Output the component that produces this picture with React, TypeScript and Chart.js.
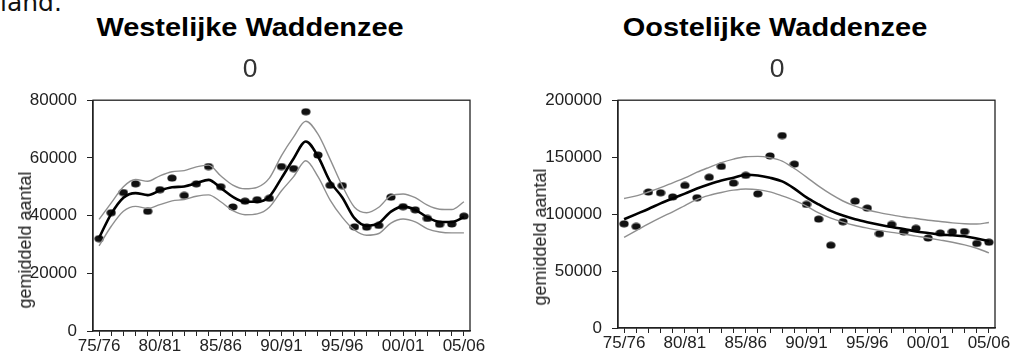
import React, { useEffect, useRef } from "react";
import { Chart, registerables } from "chart.js";

Chart.register(...registerables);

// ---------- data ----------
const seasons = [
  "75/76", "76/77", "77/78", "78/79", "79/80", "80/81", "81/82", "82/83", "83/84", "84/85",
  "85/86", "86/87", "87/88", "88/89", "89/90", "90/91", "91/92", "92/93", "93/94", "94/95",
  "95/96", "96/97", "97/98", "98/99", "99/00", "00/01", "01/02", "02/03", "03/04", "04/05",
  "05/06",
];
const shownSeasonTicks = ["75/76", "80/81", "85/86", "90/91", "95/96", "00/01", "05/06"];

const westTicks = [0, 20000, 40000, 60000, 80000];
const eastTicks = [0, 50000, 100000, 150000, 200000];

const westObserved = [32000, 41000, 48000, 51000, 41500, 49000, 53000, 47000, 51000, 57000, 50000, 43000, 45000, 45500, 46000, 57000, 56300, 76000, 61000, 50500, 50400, 36100, 36000, 36600, 46400, 43100, 42000, 39000, 37000, 37100, 39800];
const westTrend = [32300, 40600, 46200, 47800, 47100, 48700, 49800, 50100, 51200, 52400, 49600, 46500, 44800, 44800, 46600, 53000, 59800, 65700, 60500, 51800, 46300, 39100, 36500, 37400, 41400, 43100, 42000, 39400, 37800, 37800, 39500];
const westUpper = [38700, 44400, 50000, 52500, 51900, 53800, 55200, 55600, 56900, 57500, 53800, 50600, 49300, 49800, 53000, 60800, 67300, 72700, 68200, 59500, 50300, 42900, 41000, 42900, 46900, 47500, 46200, 43600, 42200, 42100, 44800];
const westLower = [29500, 36300, 41500, 43200, 42500, 43800, 45100, 45600, 46700, 47200, 44800, 41700, 40300, 40600, 42900, 48600, 53500, 59000, 53500, 45400, 39400, 35000, 33200, 33800, 37400, 38800, 37800, 35400, 34300, 34000, 34000];

const eastObserved = [91500, 89200, 119400, 118700, 115100, 125200, 114400, 132400, 141900, 127200, 134000, 117800, 151100, 169000, 143900, 108500, 95600, 72700, 93300, 111400, 105300, 82800, 90900, 84300, 87500, 79000, 83400, 84500, 84700, 74200, 75300];
const eastTrend = [95500, 100000, 104500, 109400, 113800, 118000, 122400, 126200, 129500, 131900, 134500, 133900, 131900, 128700, 122400, 114700, 108500, 102800, 98700, 95500, 92900, 90600, 88600, 86900, 84800, 83400, 82000, 81400, 80500, 78500, 76200];
const eastUpper = [113700, 116000, 119400, 123200, 127500, 131800, 136800, 141100, 145200, 148300, 150400, 150700, 149500, 146600, 140000, 132500, 124500, 117500, 111500, 107000, 103800, 101300, 99300, 97500, 96100, 94600, 93500, 92300, 91500, 91300, 92600];
const eastLower = [79500, 85500, 91500, 97000, 102000, 107500, 113000, 116500, 119000, 121000, 122000, 121500, 119500, 116000, 112000, 107000, 101000, 96500, 93000, 90000, 87700, 85700, 84000, 82500, 80700, 79000, 77200, 75300, 73000, 70000, 66000];

const FONT = "'Liberation Sans', Arial, sans-serif";

const framePlugin = {
  id: "frame",
  afterDraw(chart: any) {
    const { ctx, chartArea } = chart;
    ctx.save();
    ctx.strokeStyle = "#222";
    ctx.lineWidth = 1.3;
    ctx.strokeRect(chartArea.left, chartArea.top, chartArea.right - chartArea.left, chartArea.bottom - chartArea.top);
    ctx.restore();
  },
};

function makeDot() {
  const c = document.createElement("canvas");
  c.width = 10;
  c.height = 8;
  const g = c.getContext("2d")!;
  g.fillStyle = "#111";
  g.beginPath();
  g.ellipse(5, 4, 4.6, 3.5, 0, 0, Math.PI * 2);
  g.fill();
  return c;
}

type PanelProps = {
  left: number;
  top: number;
  width: number;
  height: number;
  pad: { top: number; right: number };
  yWidth: number;
  xHeight: number;
  yTicks: number[];
  observed: number[];
  trend: number[];
  upper: number[];
  lower: number[];
};

function Panel(p: PanelProps) {
  const ref = useRef<HTMLCanvasElement | null>(null);
  useEffect(() => {
    if (!ref.current) return;
    const dot = makeDot();
    const lineBase = { pointRadius: 0, fill: false, cubicInterpolationMode: "monotone" as const };
    const chart = new Chart(ref.current, {
      type: "line",
      data: {
        labels: seasons,
        datasets: [
          { ...lineBase, data: p.trend, borderColor: "#000", borderWidth: 2.6 },
          { ...lineBase, data: p.upper, borderColor: "#8f8f8f", borderWidth: 1.4 },
          { ...lineBase, data: p.lower, borderColor: "#8f8f8f", borderWidth: 1.4 },
          {
            data: p.observed,
            showLine: false,
            pointStyle: dot as any,
            pointRadius: 4,
            borderColor: "#111",
            backgroundColor: "#111",
          },
        ],
      },
      options: {
        animation: false,
        responsive: true,
        maintainAspectRatio: false,
        layout: { padding: { top: p.pad.top, right: p.pad.right, left: 0, bottom: 0 } },
        plugins: { legend: { display: false }, tooltip: { enabled: false }, title: { display: false } },
        scales: {
          x: {
            type: "category",
            offset: true,
            afterFit: (s: any) => {
              s.height = p.xHeight;
            },
            border: { color: "#222", width: 1.3 },
            grid: { display: true, drawOnChartArea: false, drawTicks: true, tickLength: 5, color: "#222", offset: false },
            ticks: {
              autoSkip: false,
              maxRotation: 0,
              minRotation: 0,
              padding: 0,
              color: "#222",
              font: { family: FONT, size: 17 },
              callback: (_v: any, i: number) => (shownSeasonTicks.includes(seasons[i]) ? seasons[i] : ""),
            },
          },
          y: {
            min: p.yTicks[0],
            max: p.yTicks[p.yTicks.length - 1],
            afterFit: (s: any) => {
              s.width = p.yWidth;
            },
            afterBuildTicks: (s: any) => {
              s.ticks = p.yTicks.map((v) => ({ value: v }));
            },
            border: { color: "#222", width: 1.3 },
            grid: { display: true, drawOnChartArea: false, drawTicks: true, tickLength: 6, color: "#222" },
            ticks: {
              padding: 10,
              color: "#222",
              font: { family: FONT, size: 17 },
              callback: (v: any) => String(v),
            },
          },
        },
      },
      plugins: [framePlugin],
    });
    return () => chart.destroy();
  }, []);
  return (
    <div style={{ position: "absolute", left: p.left, top: p.top, width: p.width, height: p.height }}>
      <canvas ref={ref} />
    </div>
  );
}

const titleStyle = (cx: number): React.CSSProperties => ({
  position: "absolute",
  left: cx,
  top: 15.4,
  fontFamily: FONT,
  fontWeight: "bold",
  fontSize: 25.5,
  lineHeight: "25.5px",
  color: "#000",
  whiteSpace: "nowrap",
  transform: "translateX(-50%) scaleX(1.135)",
});

const zeroStyle = (cx: number): React.CSSProperties => ({
  position: "absolute",
  left: cx,
  top: 54.5,
  fontFamily: FONT,
  fontSize: 26.5,
  lineHeight: "26.5px",
  color: "#333",
  whiteSpace: "nowrap",
  transform: "translateX(-50%)",
});

const yTitleStyle = (cx: number, cy: number): React.CSSProperties => ({
  position: "absolute",
  left: cx,
  top: cy,
  fontFamily: FONT,
  fontSize: 18,
  lineHeight: "18px",
  color: "#222",
  whiteSpace: "nowrap",
  transform: "translate(-50%, -50%) rotate(-90deg)",
});

export default function App() {
  return (
    <div style={{ position: "absolute", left: 0, top: 0, width: 1012, height: 357, overflow: "hidden", background: "#fff" }}>
      <div
        style={{
          position: "absolute",
          left: 0,
          top: -10,
          fontFamily: "'DejaVu Sans', sans-serif",
          fontSize: 25,
          lineHeight: "25px",
          color: "#111",
        }}
      >
        land.
      </div>
      <Panel
        left={0}
        top={80}
        width={500}
        height={277}
        pad={{ top: 19, right: 30 }}
        yWidth={93}
        xHeight={26}
        yTicks={westTicks}
        observed={westObserved}
        trend={westTrend}
        upper={westUpper}
        lower={westLower}
      />
      <Panel
        left={500}
        top={80}
        width={512}
        height={277}
        pad={{ top: 17, right: 17 }}
        yWidth={118}
        xHeight={29}
        yTicks={eastTicks}
        observed={eastObserved}
        trend={eastTrend}
        upper={eastUpper}
        lower={eastLower}
      />
      <div style={titleStyle(250)}>Westelijke Waddenzee</div>
      <div style={zeroStyle(250)}>0</div>
      <div style={titleStyle(775)}>Oostelijke Waddenzee</div>
      <div style={zeroStyle(777)}>0</div>
      <div style={yTitleStyle(25, 240)}>gemiddeld aantal</div>
      <div style={yTitleStyle(540, 237)}>gemiddeld aantal</div>
    </div>
  );
}
